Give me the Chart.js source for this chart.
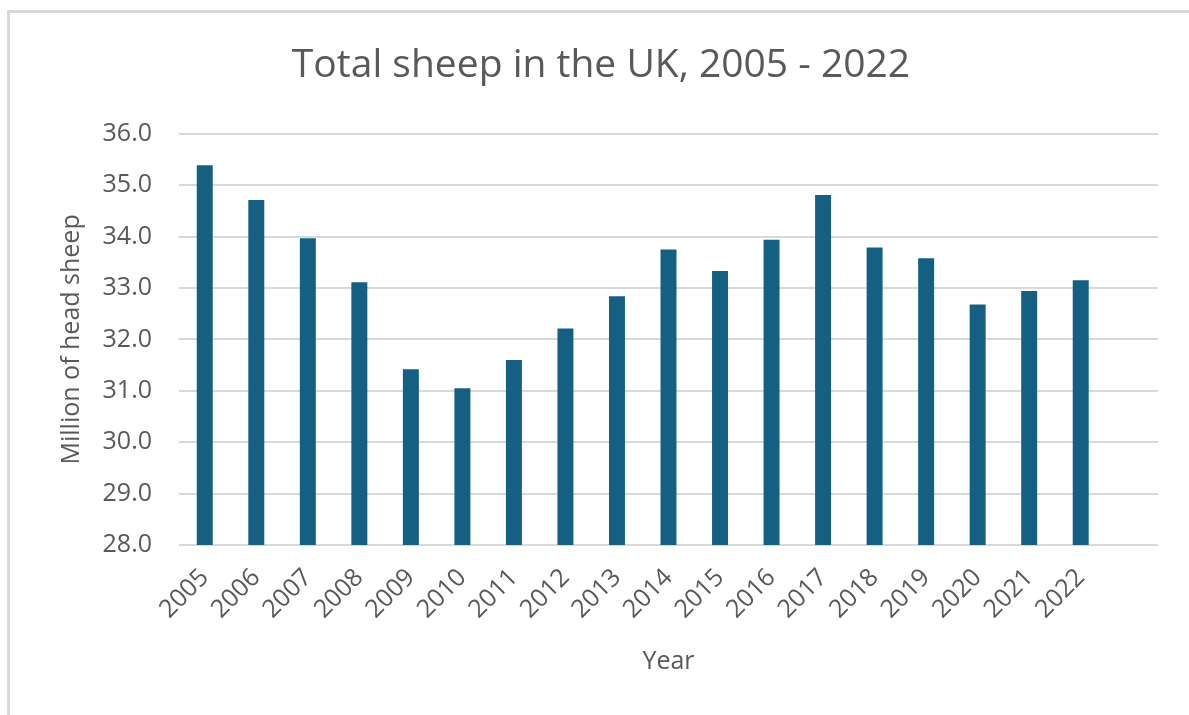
<!DOCTYPE html>
<html>
<head>
<meta charset="utf-8">
<title>Total sheep in the UK</title>
<script src="https://cdn.jsdelivr.net/npm/chart.js@4"></script>
<style>
    html, body {
        margin: 0;
        padding: 0;
        background: #ffffff;
        overflow: hidden;
    }
    .frame {
        position: absolute;
        left: 7px;
        top: 10px;
        width: 1300px;
        height: 800px;
        border-top: 3px solid #d9d9d9;
        border-left: 3px solid #d9d9d9;
    }
    .chart-wrap {
        position: absolute;
        left: 0;
        top: 0;
        width: 1189px;
        height: 715px;
    }
</style>
</head>
<body>
<div class="frame"></div>
<div class="chart-wrap">
    <canvas id="sheepChart"></canvas>
</div>
<script>
// Sheep numbers per year, millions of head (trailing blank slot keeps the gap on the right)
const years = ['2005', '2006', '2007', '2008', '2009', '2010', '2011', '2012', '2013',
               '2014', '2015', '2016', '2017', '2018', '2019', '2020', '2021', '2022', ''];
const sheepMillions = [35.39, 34.71, 33.97, 33.11, 31.42, 31.05, 31.60, 32.21, 32.84,
                       33.75, 33.33, 33.94, 34.81, 33.79, 33.58, 32.68, 32.94, 33.15, null];
const yTicks = [28, 29, 30, 31, 32, 33, 34, 35, 36];

const textColor = '#595959';
const fontFamily = '"Open Sans", "Liberation Sans", Arial, sans-serif';

Chart.defaults.font.family = fontFamily;
Chart.defaults.color = textColor;

const ctx = document.getElementById('sheepChart').getContext('2d');

new Chart(ctx, {
    type: 'bar',
    data: {
        labels: years,
        datasets: [{
            label: 'Total sheep',
            data: sheepMillions,
            backgroundColor: '#156082',
            borderWidth: 0,
            categoryPercentage: 1.0,
            barPercentage: 0.31
        }]
    },
    options: {
        responsive: true,
        maintainAspectRatio: false,
        animation: false,
        layout: {
            // left padding pushes the title centre over the frame, not the plot
            padding: { left: 44, right: 31, top: 0, bottom: 0 }
        },
        plugins: {
            legend: { display: false },
            tooltip: { enabled: false },
            title: {
                display: true,
                text: 'Total sheep in the UK, 2005 - 2022',
                color: textColor,
                font: { size: 39, weight: 'normal' },
                padding: { top: 42, bottom: 45 }
            }
        },
        scales: {
            x: {
                grid: { display: false },
                border: { display: false },
                ticks: {
                    color: textColor,
                    font: { size: 25 },
                    maxRotation: 45,
                    minRotation: 45,
                    autoSkip: false,
                    padding: 10
                },
                title: {
                    display: true,
                    text: 'Year',
                    color: textColor,
                    font: { size: 25 },
                    padding: { top: 0, bottom: 38 }
                },
                afterFit: (scale) => { scale.height = 170; }
            },
            y: {
                min: 28,
                max: 36,
                afterBuildTicks: (scale) => {
                    scale.ticks = yTicks.map(v => ({ value: v }));
                },
                grid: {
                    color: '#d9d9d9',
                    lineWidth: 2,
                    drawTicks: false
                },
                border: { display: false },
                ticks: {
                    color: textColor,
                    font: { size: 25 },
                    padding: 27,
                    callback: (value) => value.toFixed(1)
                },
                title: {
                    display: true,
                    text: 'Million of head sheep',
                    color: textColor,
                    font: { size: 25 },
                    padding: { top: 13, bottom: 0 }
                },
                afterFit: (scale) => { scale.width = 135; }
            }
        }
    }
});
</script>
</body>
</html>
